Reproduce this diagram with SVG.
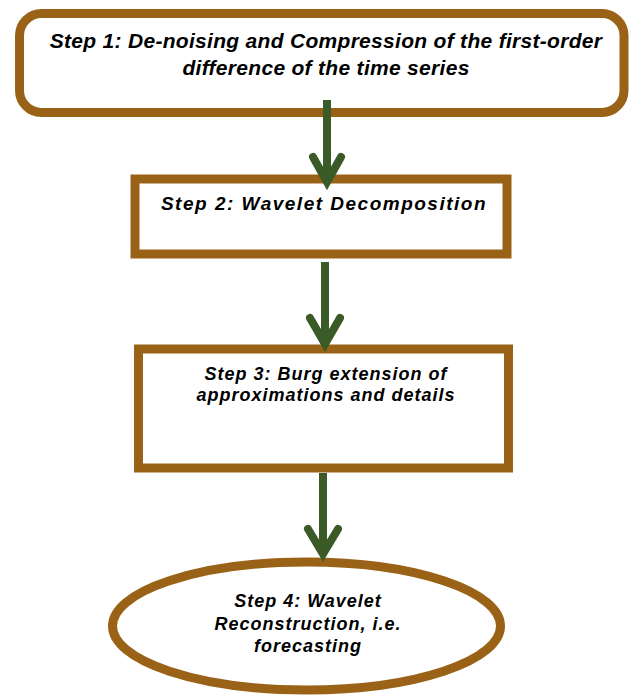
<svg xmlns="http://www.w3.org/2000/svg" width="630" height="695" viewBox="0 0 630 695">
<defs>
<style>
.node{fill:#ffffff;stroke:#9A6216;stroke-width:9}
.t{font-family:"Liberation Sans",Arial,sans-serif;font-weight:bold;font-style:italic;fill:#000000;text-anchor:middle}
.t1{font-size:21px;letter-spacing:0.3px}
.t2{font-size:19px;letter-spacing:1.5px}
.t3{font-size:18px;letter-spacing:1px}
.conn{fill:none;stroke:#3A5A27;stroke-width:8;stroke-linecap:round;stroke-linejoin:miter}
.shaft{fill:none;stroke:#3A5A27;stroke-width:8;stroke-linecap:butt}
</style>
</defs>
<rect width="630" height="695" fill="#ffffff"/>
<g id="step1">
<rect class="node" x="19.5" y="13.5" width="604.5" height="99" rx="22" ry="22"/>
<text class="t t1" x="326" y="48">Step 1: De-noising and Compression of the first-order</text>
<text class="t t1" x="326" y="75">difference of the time series</text>
</g>
<g id="step2">
<rect class="node" x="135" y="179" width="372" height="75"/>
<text class="t t2" x="324" y="210">Step 2: Wavelet Decomposition</text>
</g>
<g id="step3">
<rect class="node" x="138.5" y="349" width="370" height="119"/>
<text class="t t3" x="326" y="380">Step 3: Burg extension of</text>
<text class="t t3" x="326" y="401">approximations and details</text>
</g>
<g id="step4">
<ellipse class="node" cx="306.5" cy="626" rx="194" ry="64"/>
<text class="t t3" x="308" y="607">Step 4: Wavelet</text>
<text class="t t3" x="308" y="630">Reconstruction, i.e.</text>
<text class="t t3" x="308" y="652">forecasting</text>
</g>
<g id="connectors">
<path class="shaft" d="M327,100 V180"/>
<path class="conn" d="M313,157 L327,182 L341,157"/>
<path class="shaft" d="M325,262 V343"/>
<path class="conn" d="M310,318 L325,344 L340,318"/>
<path class="shaft" d="M323,473 V553"/>
<path class="conn" d="M308,529 L323,554 L338,529"/>
</g>
</svg>
